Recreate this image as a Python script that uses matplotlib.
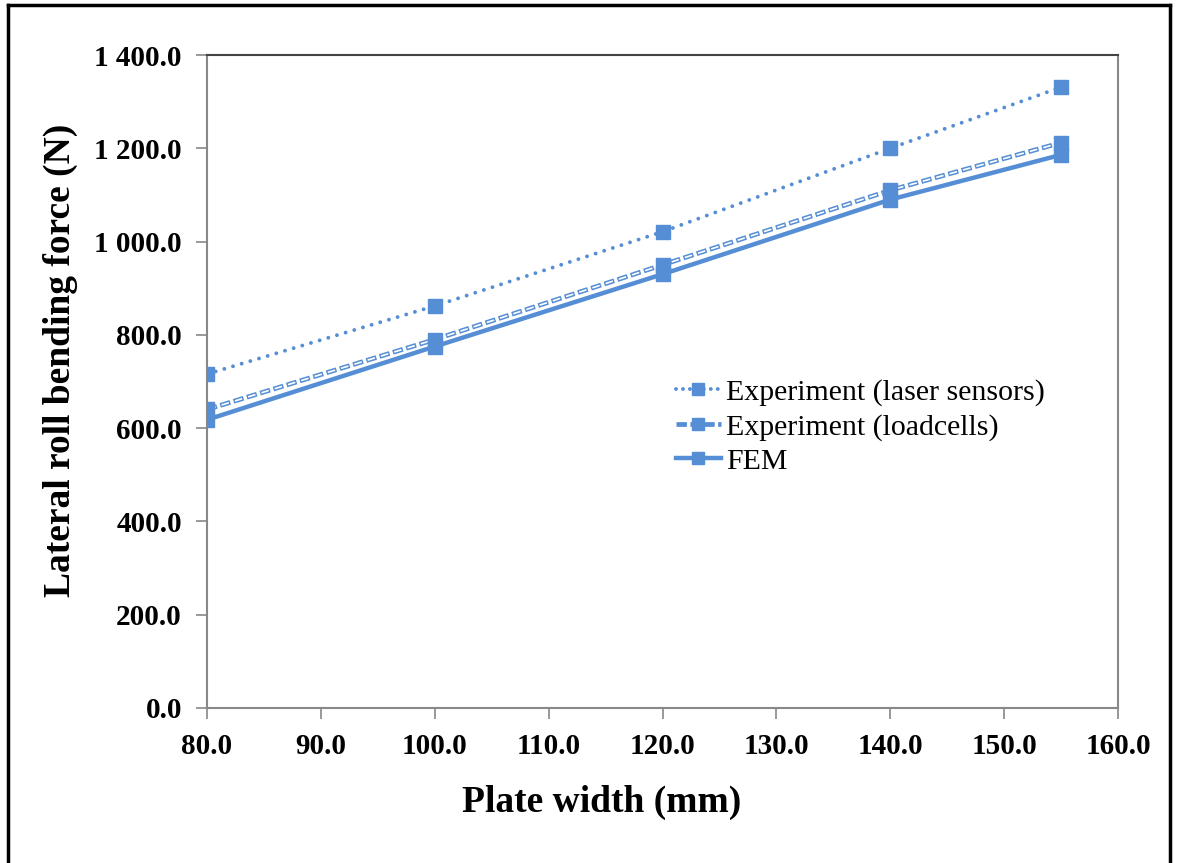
import numpy as np
import matplotlib
matplotlib.use('Agg')
from matplotlib import pyplot as plt
from matplotlib.lines import Line2D

plate_width = [80, 100, 120, 140, 155]
laser = [716, 862, 1021, 1200, 1331]
loadcells = [640, 790, 950, 1110, 1212]
fem = [618, 775, 930, 1090, 1186]

blue = '#558ED5'
serif = ['Liberation Serif', 'DejaVu Serif']
plt.rcParams['lines.scale_dashes'] = False

W, H = 1179, 863
fig = plt.figure(figsize=(W / 100, H / 100), dpi=100, facecolor='white')
ax = fig.add_axes([207 / W, 1 - 708 / H, (1118 - 207) / W, (708 - 55) / H])

# outer frame (no bottom edge)
for xs, ys in [([8 / W, 8 / W], [0, 1 - 5 / H]),
               ([8 / W, 1170 / W], [1 - 5 / H, 1 - 5 / H]),
               ([1170 / W, 1170 / W], [0, 1 - 5 / H])]:
    fig.add_artist(Line2D(xs, ys, color='black', lw=2.5, transform=fig.transFigure))

ms = 9.5
dotted = (0, (0.01, 6.5))
dash_out = (0, (7.5, 2.5))
dash_in = (9.0, (5.5, 4.5))

ax.plot(plate_width, laser, color=blue, lw=2.8, linestyle=dotted,
        dash_capstyle='round', zorder=3)
ax.plot(plate_width, laser, color=blue, lw=0, marker='s', ms=ms, zorder=5)
ax.plot(plate_width, loadcells, color=blue, lw=3.4, linestyle=dash_out,
        dash_capstyle='butt', zorder=3)
ax.plot(plate_width, loadcells, color='white', lw=1.2, linestyle=dash_in,
        dash_capstyle='butt', zorder=3.5)
ax.plot(plate_width, loadcells, color=blue, lw=0, marker='s', ms=ms, zorder=5)
ax.plot(plate_width, fem, color=blue, lw=3.2, marker='s', ms=ms, zorder=4)

ax.set_xlim(80, 160)
ax.set_ylim(0, 1400)
xt = np.arange(80, 161, 10)
yt = np.arange(0, 1401, 200)
ax.set_xticks(xt)
ax.set_yticks(yt)
ax.set_xticklabels(['%.1f' % v for v in xt])
ax.set_yticklabels(['{:,.1f}'.format(v).replace(',', ' ') for v in yt])
for lab in ax.get_xticklabels() + ax.get_yticklabels():
    lab.set_family(serif)
    lab.set_fontweight('bold')
    lab.set_fontsize(21)
ax.tick_params(axis='both', direction='out', length=8, width=1.2, color='#888888')
ax.tick_params(axis='x', pad=10)
ax.tick_params(axis='y', pad=10)
for side in ['left', 'bottom', 'right']:
    ax.spines[side].set_color('#888888')
    ax.spines[side].set_linewidth(1.5)
ax.spines['top'].set_color('#444444')
ax.spines['top'].set_linewidth(1.5)

fig.text(602 / W, 1 - 802 / H, 'Plate width (mm)', family=serif, fontweight='bold',
         fontsize=27, ha='center', va='center')
fig.text(60 / W, 1 - 360 / H, 'Lateral roll bending force (N)', family=serif,
         fontweight='bold', fontsize=27, rotation=90, ha='center', va='center')

h1 = Line2D([], [], color=blue, lw=2.8, linestyle=(0, (0.01, 5.0)),
            dash_capstyle='round', marker='s', ms=ms * 0.85)
h2 = Line2D([], [], color=blue, lw=3.4, linestyle=(0, (7.5, 2.5)), marker='s', ms=ms * 0.85)
h3 = Line2D([], [], color=blue, lw=3.2, marker='s', ms=ms * 0.85)
leg = ax.legend([h1, h2, h3],
                ['Experiment (laser sensors)', 'Experiment (loadcells)', 'FEM'],
                loc='upper left', bbox_to_anchor=((676 - 207) / 911, (708 - 379) / 653),
                frameon=False, prop={'family': serif, 'size': 21.5}, handlelength=1.5,
                handletextpad=0.17, labelspacing=0.24, borderaxespad=0, borderpad=0)

fig.savefig('out.png', dpi=100, facecolor='white')
